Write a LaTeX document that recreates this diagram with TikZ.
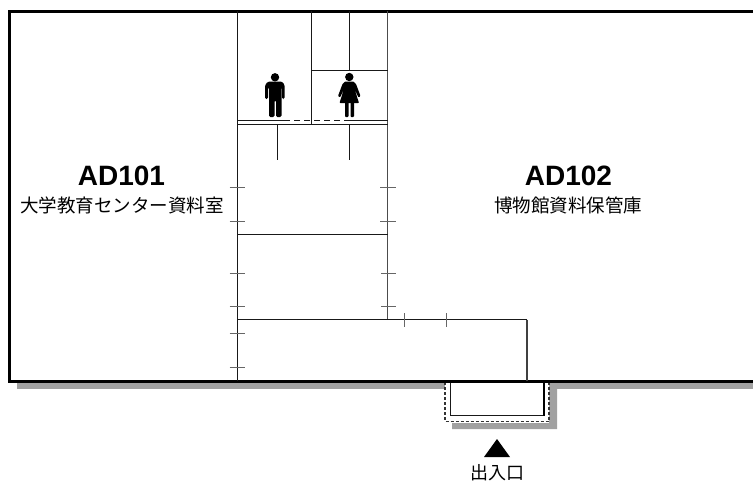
\documentclass[tikz,border=0pt]{standalone}
\usepackage{fontspec}
\setmainfont{Liberation Sans}
\newfontfamily\cjk{Noto Sans CJK JP}
\tikzset{
    roomno/.style={font=\fontsize{28}{30}\selectfont\bfseries, inner sep=0pt},
    roomname/.style={font=\fontsize{18.5}{20}\selectfont\cjk, inner sep=0pt},
    wall/.style={line width=1.5pt, black!90},
    doorline/.style={line width=1.1pt, black!60},
    shadowfill/.style={fill=black!37, draw=none}
}
\begin{document}
\begin{tikzpicture}[x=1pt, y=-1pt]
\useasboundingbox (0,0) rectangle (753,483);
% shadow
\fill[shadowfill] (17,383) -- (445,383) -- (445,389) -- (17,389) -- cycle;
\fill[shadowfill] (557,383) -- (557,389) -- (753,389) -- (753,383) -- cycle;
\fill[shadowfill] (549,383) -- (557,383) -- (557,429) -- (452,429) -- (452,423) -- (549,423) -- cycle;
% entrance
\draw[line width=1.1pt, densely dashed, black!80] (445,382) -- (445,421.5) -- (549,421.5) -- (549,382);
\draw[wall] (450.5,381) -- (450.5,415.5) -- (544,415.5);
\draw[line width=2pt] (544,381) -- (544,416);
% walls
\draw[line width=3pt, line cap=rect] (753,11) -- (9.5,11) -- (9.5,381.5) -- (753,381.5);
\draw[wall] (237.5,11) -- (237.5,381);
\draw[line width=1.5pt, black!70] (387.5,11) -- (387.5,319.5);
\draw[wall] (311.5,11) -- (311.5,124.5);
\draw[wall] (349.5,11) -- (349.5,70.5);
\draw[wall] (311.5,70.5) -- (388,70.5);
\draw[wall] (237.5,120.5) -- (284,120.5);
\draw[wall, dash pattern=on 6pt off 4pt] (284,120.5) -- (345,120.5);
\draw[wall] (345,120.5) -- (388,120.5);
\draw[wall] (237.5,124.5) -- (388,124.5);
\draw[wall] (277.5,124.5) -- (277.5,160);
\draw[wall] (349.5,124.5) -- (349.5,160);
\draw[wall] (237.5,234.5) -- (387.5,234.5);
\draw[wall] (237.5,319.5) -- (527,319.5);
\draw[line width=1.4pt, black!75] (527,319.5) -- (527,381);
% doors
\foreach \y in {187.5,221.5,273.5,306.5,333.5,367.5} {
    \draw[doorline] (229.5,\y) -- (245,\y);
}
\foreach \y in {187.5,221.5} {
    \draw[doorline] (380,\y) -- (395.5,\y);
}
\foreach \y in {273.5,306.5} {
    \draw[doorline] (381,\y) -- (396,\y);
}
\foreach \x in {404.5,446.5} {
    \draw[doorline] (\x,313) -- (\x,327);
}
% man
\fill (275,77.3) circle (4.2);
\fill[rounded corners=1.5pt] (265,99) -- (265,85) -- (268,81.5) -- (282,81.5) -- (284.7,85) -- (284.7,99) -- (282,99) -- (282,87) -- (281.5,87) -- (281.5,117) -- (276,117) -- (276,100) -- (274.5,100) -- (274.5,117) -- (269,117) -- (269,87) -- (268,87) -- (268,99) -- cycle;
% woman
\fill (349.3,77) circle (4.2);
\fill[rounded corners=0.8pt] (345,81.5) -- (353.5,81.5) -- (356,84) -- (360.5,96) -- (358.5,97.5) -- (354.5,89) -- (359,103) -- (339.5,103) -- (344,89) -- (340,97.5) -- (338,96) -- (342.5,84) -- cycle;
\fill[rounded corners=0.8pt] (345,102) -- (348.5,102) -- (348.5,117) -- (345,117) -- cycle;
\fill[rounded corners=0.8pt] (350.5,102) -- (354,102) -- (354,117) -- (350.5,117) -- cycle;
% labels
\node[roomno] (ad101) at (121.5,176) {AD101};
\node[roomname, below=0pt] (ad101name) at (122,196.5) {大学教育センター資料室};
\node[roomno] (ad102) at (568.5,176) {AD102};
\node[roomname, below=0pt] (ad102name) at (568,196.5) {博物館資料保管庫};
% entrance mark
\fill (484,457) -- (497,439) -- (510,457) -- cycle;
\node[roomname, font=\fontsize{18}{20}\selectfont\cjk] (entry) at (497,472.5) {出入口};
\end{tikzpicture}
\end{document}
